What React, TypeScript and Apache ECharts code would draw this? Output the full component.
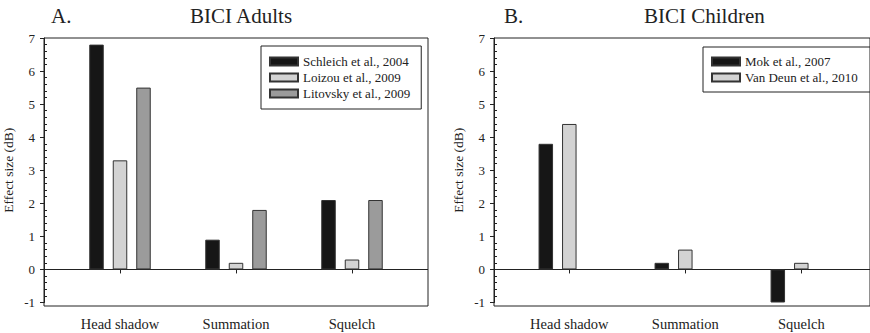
import React, { useEffect, useRef } from "react";
import * as echarts from "echarts";

const categories = ["Head shadow", "Summation", "Squelch"];
const adultNames = ["Schleich et al., 2004", "Loizou et al., 2009", "Litovsky et al., 2009"];
const schleich = [6.8, 0.9, 2.1];
const loizou = [3.3, 0.2, 0.3];
const litovsky = [5.5, 1.8, 2.1];
const childNames = ["Mok et al., 2007", "Van Deun et al., 2010"];
const mok = [3.8, 0.2, -1.0];
const vanDeun = [4.4, 0.6, 0.2];
const yTicks = { min: -1, max: 7, interval: 1 };
const titlesA = ["A.", "BICI Adults"];
const titlesB = ["B.", "BICI Children"];
const yName = "Effect size (dB)";

const FONT = "Liberation Serif, Times New Roman, serif";
const INK = "#222";
const colors = ["#161616", "#d3d3d3", "#9b9b9b"];
const NONE = "rgba(0,0,0,0)";

export default function App() {
  const ref = useRef<HTMLDivElement>(null);
  useEffect(() => {
    document.body.style.margin = "0";
    const chart = echarts.init(ref.current!, null, { renderer: "svg" });

    const top = 38;
    const plotH = 264.5; // -1..7
    const frameH = 268;
    const panels = [
      { frameLeft: 44, barLeft: 62 },
      { frameLeft: 494, barLeft: 511.3 },
    ];

    const grid: any[] = [];
    const xAxis: any[] = [];
    const yAxis: any[] = [];
    panels.forEach((p) => {
      grid.push({ left: p.frameLeft, top, width: 384, height: frameH, show: true, borderColor: INK, borderWidth: 1, backgroundColor: "transparent" });
      grid.push({ left: p.frameLeft, top, width: 384, height: plotH });
      grid.push({ left: p.barLeft, top, width: 348, height: plotH });
    });
    const yIdx: number[] = [];
    const xIdx: number[] = [];
    panels.forEach((p, i) => {
      const g0 = i * 3;
      xAxis.push({ gridIndex: g0, type: "value", show: false });
      yAxis.push({ gridIndex: g0, type: "value", show: false });
      // axis line, inside minor ticks, zero line
      xAxis.push({ gridIndex: g0 + 1, type: "value", show: false, min: 0, max: 1 });
      yAxis.push({
        gridIndex: g0 + 1,
        type: "value",
        position: "left",
        min: yTicks.min,
        max: yTicks.max,
        interval: yTicks.interval,
        axisLine: { show: true, lineStyle: { color: INK, width: 1 } },
        axisTick: { show: true, inside: true, length: 3, lineStyle: { color: NONE, width: 1 } },
        minorTick: { show: true, splitNumber: 5, length: 3, lineStyle: { color: INK, width: 1 } },
        axisLabel: { show: false },
        splitLine: {
          show: true,
          lineStyle: { color: [NONE, INK, NONE, NONE, NONE, NONE, NONE, NONE, NONE], width: 1.2 },
        },
        minorSplitLine: { show: false },
      });
      // bars: categories, outward major ticks, labels, name
      xAxis.push({
        gridIndex: g0 + 2,
        type: "category",
        data: categories,
        position: "bottom",
        offset: 3.5,
        axisLine: { show: false },
        axisTick: { show: true, alignWithLabel: true, length: 4, lineStyle: { color: INK } },
        axisLabel: { fontFamily: FONT, fontSize: 14.5, color: INK, margin: 10 },
      });
      yAxis.push({
        gridIndex: g0 + 2,
        type: "value",
        position: "left",
        offset: p.barLeft - p.frameLeft,
        min: yTicks.min,
        max: yTicks.max,
        interval: yTicks.interval,
        name: yName,
        nameLocation: "middle",
        nameGap: 29,
        nameTextStyle: { fontFamily: FONT, fontSize: 13.5, color: INK },
        axisLine: { show: false },
        axisTick: { show: true, inside: false, length: 4, lineStyle: { color: INK } },
        axisLabel: { fontFamily: FONT, fontSize: 13, color: INK, margin: 9 },
        splitLine: { show: false },
      });
      xIdx.push(xAxis.length - 1);
      yIdx.push(yAxis.length - 1);
    });

    const border = { borderColor: "#333", borderWidth: 1 };
    const barBase = { type: "bar", barWidth: 14.5, barGap: "62%" };
    const series: any[] = [
      { ...barBase, name: adultNames[0], xAxisIndex: xIdx[0], yAxisIndex: yIdx[0], data: schleich, itemStyle: { ...border, color: colors[0] } },
      { ...barBase, name: adultNames[1], xAxisIndex: xIdx[0], yAxisIndex: yIdx[0], data: loizou, itemStyle: { ...border, color: colors[1] } },
      { ...barBase, name: adultNames[2], xAxisIndex: xIdx[0], yAxisIndex: yIdx[0], data: litovsky, itemStyle: { ...border, color: colors[2] } },
      { ...barBase, name: childNames[0], xAxisIndex: xIdx[1], yAxisIndex: yIdx[1], data: mok, itemStyle: { ...border, color: colors[0] } },
      { ...barBase, name: childNames[1], xAxisIndex: xIdx[1], yAxisIndex: yIdx[1], data: vanDeun, itemStyle: { ...border, color: colors[1] } },
      { ...barBase, name: "_empty", xAxisIndex: xIdx[1], yAxisIndex: yIdx[1], data: [null, null, null], itemStyle: { ...border, color: colors[2] } },
    ];

    const titleStyle = { fontFamily: FONT, fontSize: 21, fontWeight: "normal", color: INK };
    const legendBase = {
      orient: "vertical",
      icon: "rect",
      itemWidth: 28,
      itemHeight: 8,
      itemGap: 3,
      borderColor: INK,
      borderWidth: 1,
      borderRadius: 0,
      textStyle: { fontFamily: FONT, fontSize: 13, color: INK },
      selectedMode: false,
    };

    chart.setOption({
      animation: false,
      backgroundColor: "#fff",
      title: [
        { text: titlesA[0], left: 51, top: 5, textStyle: titleStyle, padding: 0 },
        { text: titlesA[1], left: 190, top: 5, textStyle: titleStyle, padding: 0 },
        { text: titlesB[0], left: 504, top: 5, textStyle: titleStyle, padding: 0 },
        { text: titlesB[1], left: 644, top: 5, textStyle: titleStyle, padding: 0 },
      ],
      legend: [
        { ...legendBase, data: adultNames, left: 261, top: 46, padding: [9, 11, 9, 8] },
        { ...legendBase, data: childNames, left: 703, top: 47, padding: [8, 30, 8, 8] },
      ],
      grid,
      xAxis,
      yAxis,
      series,
    });
    return () => chart.dispose();
  }, []);
  return <div ref={ref} style={{ position: "absolute", left: 0, top: 0, width: 870, height: 333 }} />;
}
